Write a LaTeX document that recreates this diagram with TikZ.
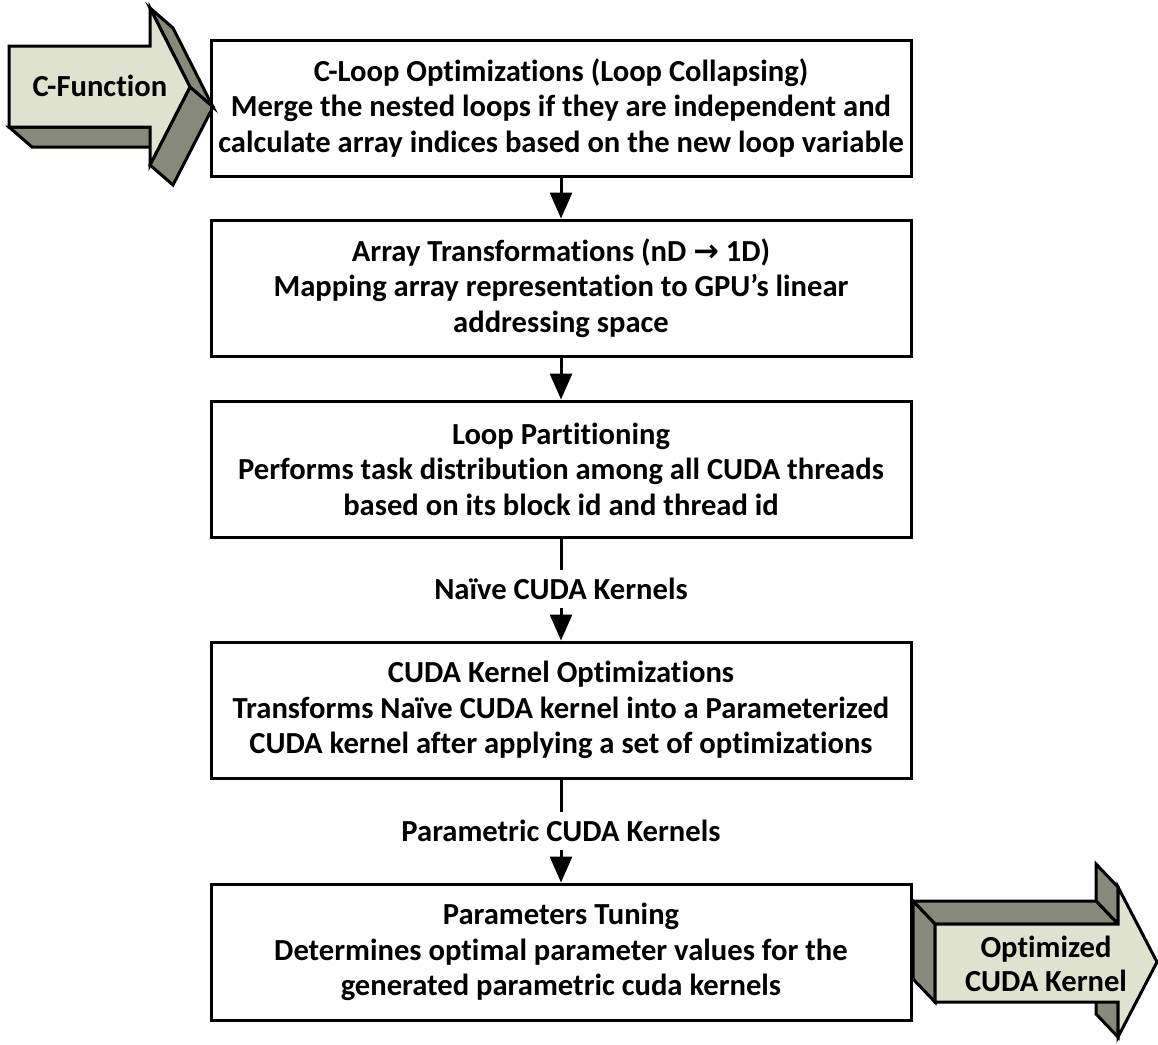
\documentclass[tikz,border=0pt]{standalone}
\usepackage{fontspec}
\setmainfont{Carlito}[Ligatures={NoCommon}]
\newfontfamily\symfont{DejaVu Sans}
\usepackage{tikz}
\usetikzlibrary{arrows.meta, positioning}
\definecolor{facelight}{RGB}{222,226,206}
\definecolor{sidedark}{RGB}{135,138,123}

\begin{document}
\begin{tikzpicture}[x=1pt, y=-1pt,
    stagebox/.style={draw, line width=3pt, minimum width=700pt, minimum height=136pt, inner sep=0pt, align=center, font=\fontsize{30.6}{35.5}\selectfont\bfseries},
    flowlabel/.style={minimum height=38pt, inner sep=0pt, font=\fontsize{30.6}{35.5}\selectfont\bfseries},
    flowline/.style={line width=3pt},
    flowarrow/.style={line width=3pt, -{Triangle[length=26pt, width=22pt]}},
    arrowface/.style={draw, fill=facelight, line width=3pt},
    arrowside/.style={draw, fill=sidedark, line width=3pt}]
        \useasboundingbox (0,0) rectangle (1158,1044);

        % input arrow
        \filldraw[arrowside] (9,127) -- (150,127) -- (173,147) -- (32,147) -- cycle;
        \filldraw[arrowside] (150,8) -- (190,87) -- (213,107) -- (173,28) -- cycle;
        \filldraw[arrowside] (190,87) -- (150,165) -- (173,185) -- (213,107) -- cycle;
        \filldraw[arrowface] (9,46) -- (150,46) -- (150,8) -- (190,87) -- (150,165) -- (150,127) -- (9,127) -- cycle;
        \node[flowlabel] (cfunc) at (100,86) {C-Function};

        % output arrow
        \filldraw[arrowside] (1118,1002) -- (1118,1037) -- (1096,1014) -- (1096,979) -- cycle;
        \filldraw[arrowside] (1118,887) -- (1118,924) -- (1096,901) -- (1096,864) -- cycle;
        \filldraw[arrowside] (935,924) -- (1118,924) -- (1096,901) -- (913,901) -- cycle;
        \filldraw[arrowside] (935,924) -- (935,1002) -- (913,979) -- (913,901) -- cycle;
        \filldraw[arrowface] (935,924) -- (1118,924) -- (1118,887) -- (1157,962) -- (1118,1037) -- (1118,1002) -- (935,1002) -- cycle;
        \node[flowlabel, align=center, font=\fontsize{30.6}{34}\selectfont\bfseries] (optkernel) at (1046,964) {Optimized\\CUDA Kernel};

        % stages
        \node[stagebox] (cloopopt) at (561,108) {C-Loop Optimizations (Loop Collapsing)\\Merge the nested loops if they are independent and\\calculate array indices based on the new loop variable};
        \node[stagebox] (arraytrans) at (561,288) {Array Transformations (nD {\symfont\bfseries →} 1D)\\Mapping array representation to GPU’s linear\\addressing space};
        \node[stagebox] (looppart) at (561,469) {Loop Partitioning\\Performs task distribution among all CUDA threads\\based on its block id and thread id};
        \node[stagebox] (cudaopt) at (561,710) {CUDA Kernel Optimizations\\Transforms Naïve CUDA kernel into a Parameterized\\CUDA kernel after applying a set of optimizations};
        \node[stagebox] (paramtune) at (561,952) {Parameters Tuning\\Determines optimal parameter values for the\\generated parametric cuda kernels};

        % intermediate results
        \node[flowlabel] (naivelbl) at (561,589) {Naïve CUDA Kernels};
        \node[flowlabel] (paramlbl) at (561,831) {Parametric CUDA Kernels};

        \draw[flowarrow] (cloopopt) -- (arraytrans);
        \draw[flowarrow] (arraytrans) -- (looppart);
        \draw[flowline] (looppart) -- (naivelbl);
        \draw[flowarrow] (naivelbl) -- (cudaopt);
        \draw[flowline] (cudaopt) -- (paramlbl);
        \draw[flowarrow] (paramlbl) -- (paramtune);
    \end{tikzpicture}
\end{document}
